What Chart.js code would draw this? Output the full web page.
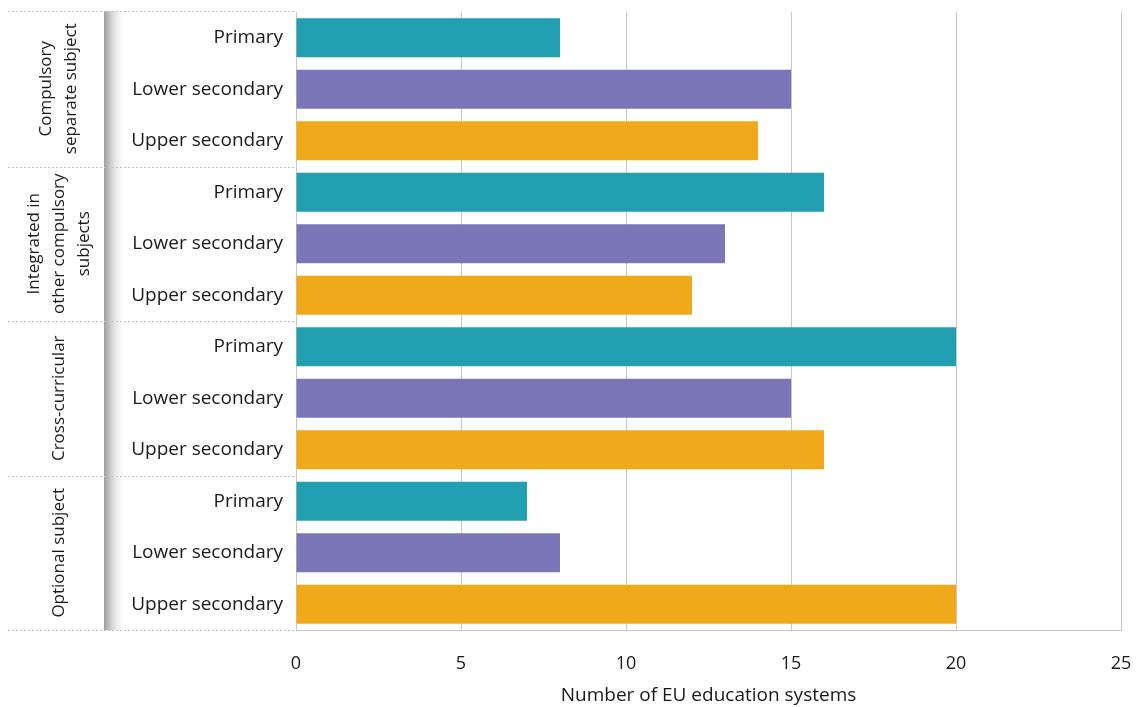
<!DOCTYPE html>
<html>
<head>
<meta charset="utf-8">
<script src="https://cdn.jsdelivr.net/npm/chart.js@4"></script>
<style>
  body { margin: 0; background: #fff; }
  #wrap { width: 1136px; height: 707px; }
</style>
</head>
<body>
<div id="wrap"><canvas id="barChart"></canvas></div>
<script>
// data
const groups = [
    ['Compulsory', 'separate subject'],
    ['Integrated in', 'other compulsory', 'subjects'],
    ['Cross-curricular'],
    ['Optional subject']
];
const levels = ['Primary', 'Lower secondary', 'Upper secondary'];
const primary = [8, 16, 20, 7];
const lowerSecondary = [15, 13, 15, 8];
const upperSecondary = [14, 12, 16, 20];
const xTicks = [0, 5, 10, 15, 20, 25];
const levelColors = ['#229fb1', '#7a76b7', '#f0a91b'];

// one row per group x level
const labels = [];
const values = [];
const colors = [];
groups.forEach((g, i) => {
    [primary, lowerSecondary, upperSecondary].forEach((series, j) => {
        labels.push(levels[j]);
        values.push(series[i]);
        colors.push(levelColors[j]);
    });
});

// left side: shaded strip, dashed separators and rotated group labels
const groupDecor = {
    id: 'groupDecor',
    afterDraw(chart) {
        const ctx = chart.ctx;
        const y = chart.scales.y;
        const area = chart.chartArea;
        ctx.save();

        const grad = ctx.createLinearGradient(104, 0, 127, 0);
        grad.addColorStop(0, '#9d9d9d');
        grad.addColorStop(0.35, '#d6d6d6');
        grad.addColorStop(1, 'rgba(255,255,255,0)');
        ctx.fillStyle = grad;
        ctx.fillRect(104, area.top - 1, 23, area.bottom - area.top + 1);

        const bounds = [area.top - 1];
        for (let i = 1; i < groups.length; i++) {
            const k = i * levels.length;
            bounds.push((y.getPixelForValue(k - 1) + y.getPixelForValue(k)) / 2);
        }
        bounds.push(area.bottom);

        ctx.strokeStyle = '#c4c4c4';
        ctx.lineWidth = 1;
        ctx.setLineDash([2, 2]);
        bounds.forEach(b => {
            ctx.beginPath();
            ctx.moveTo(8, Math.round(b) + 0.5);
            ctx.lineTo(area.left, Math.round(b) + 0.5);
            ctx.stroke();
        });
        ctx.setLineDash([]);

        ctx.fillStyle = '#1a1a1a';
        ctx.font = "17px 'Open Sans'";
        ctx.textAlign = 'center';
        ctx.textBaseline = 'middle';
        groups.forEach((lines, i) => {
            const mid = (bounds[i] + bounds[i + 1]) / 2;
            ctx.save();
            ctx.translate(59, mid);
            ctx.rotate(-Math.PI / 2);
            const step = 25;
            lines.forEach((t, n) => {
                ctx.fillText(t, 0, (n - (lines.length - 1) / 2) * step);
            });
            ctx.restore();
        });
        ctx.restore();
    }
};

Chart.defaults.font.family = "'Open Sans', sans-serif";
Chart.defaults.color = '#1a1a1a';

window.onload = function() {
    const ctx = document.getElementById('barChart').getContext('2d');
    new Chart(ctx, {
        type: 'bar',
        data: {
            labels: labels,
            datasets: [{
                data: values,
                backgroundColor: colors,
                barPercentage: 0.76,
                categoryPercentage: 1
            }]
        },
        options: {
            indexAxis: 'y',
            responsive: true,
            maintainAspectRatio: false,
            animation: false,
            layout: { padding: { top: 12, right: 15, left: 0, bottom: 0 } },
            plugins: {
                legend: { display: false },
                tooltip: { enabled: false }
            },
            scales: {
                x: {
                    min: 0,
                    max: 25,
                    afterBuildTicks: s => { s.ticks = xTicks.map(v => ({ value: v })); },
                    afterFit: s => {
                        s.height = 77;
                        s.paddingLeft = 0;
                        s.paddingRight = 0;
                    },
                    grid: { color: '#c8c8c8', lineWidth: 1, drawTicks: false },
                    border: { color: '#c8c8c8' },
                    ticks: { padding: 23, font: { size: 18 }, maxRotation: 0 },
                    title: {
                        display: true,
                        text: 'Number of EU education systems',
                        font: { size: 19 },
                        padding: { top: 0, bottom: 0 }
                    }
                },
                y: {
                    afterFit: s => {
                        s.width = 296;
                        s.paddingTop = 0;
                        s.paddingBottom = 0;
                    },
                    grid: { display: false, drawTicks: false },
                    border: { display: true, color: '#c8c8c8' },
                    ticks: { padding: 13, font: { size: 19 }, autoSkip: false }
                }
            }
        },
        plugins: [groupDecor]
    });
};
</script>
</body>
</html>
